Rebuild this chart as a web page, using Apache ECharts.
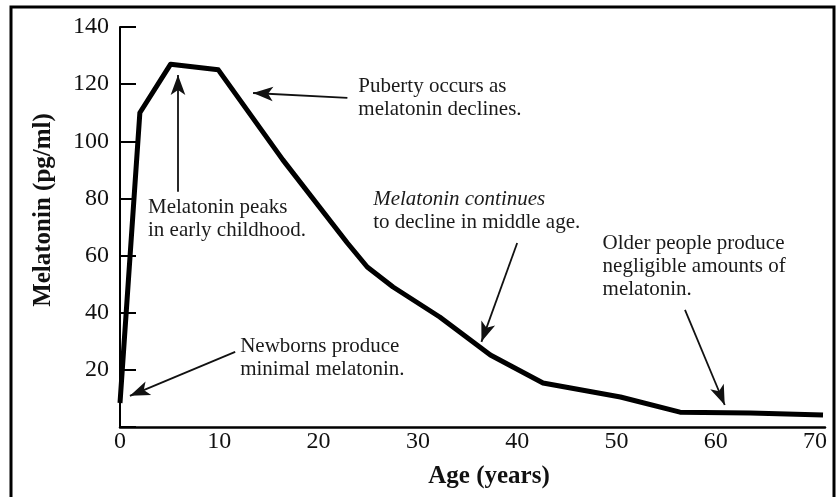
<!DOCTYPE html>
<html>
<head>
<meta charset="utf-8">
<script src="https://cdn.jsdelivr.net/npm/echarts@6/dist/echarts.min.js"></script>
<style>html,body{margin:0;padding:0;background:#fff}#c{width:837px;height:497px}</style>
</head>
<body>
<div id="c"></div>
<script>
// Data
const ages   = [0, 2.0, 5.1, 9.9, 16.4, 22.9, 24.9, 27.5, 32.2, 37.3, 42.6, 50.4, 56.4, 63.5, 70.8];
const values = [8.4, 110, 127, 125, 93.5, 64.4, 56, 49, 38.5, 25.2, 15.4, 10.5, 5.2, 4.9, 4.2];
const yTicks = [0, 20, 40, 60, 80, 100, 120, 140];
const xTicks = [0, 10, 20, 30, 40, 50, 60, 70];

// Annotation texts: top-left anchor [age, value]
const noteTexts = [
  '{n|Puberty occurs as}\n{n|melatonin declines.}',
  '{n|Melatonin peaks}\n{n|in early childhood.}',
  '{it|Melatonin continues}\n{n|to decline in middle age.}',
  '{n|Newborns produce}\n{n|minimal melatonin.}',
  '{n|Older people produce}\n{n|negligible amounts of}\n{n|melatonin.}'
];
const noteAnchors = [[24.0, 123.2], [2.82, 80.8], [25.5, 83.6], [12.1, 32.3], [48.6, 68.2]];

// Arrows: [from, to] in [age, value]
const arrowFrom = [[22.9, 115.2], [5.84, 82.3], [40.0, 64.4], [11.6, 26.3], [56.9, 41.0]];
const arrowTo   = [[13.4, 116.9], [5.84, 123.2], [36.4, 29.8], [1.0, 10.9], [60.9, 7.7]];

const FF = 'Liberation Serif';
const lineData = ages.map((a, i) => [a, values[i]]);

const chart = echarts.init(document.getElementById('c'));
chart.setOption({
  backgroundColor: '#fff',
  animation: false,
  grid: { left: 120, right: 12, top: 27, bottom: 70 },
  xAxis: {
    type: 'value', min: 0, max: 71, interval: 10,
    axisLine: { show: true, onZero: false, lineStyle: { color: '#000', width: 2.5 } },
    axisTick: { show: false },
    splitLine: { show: false },
    axisLabel: {
      color: '#111', fontFamily: FF, fontSize: 24, margin: 3,
      formatter: v => (xTicks.indexOf(v) >= 0 ? String(v) : '')
    }
  },
  yAxis: {
    type: 'value', min: 0, max: 140, interval: 20,
    axisLine: { show: true, lineStyle: { color: '#000', width: 2 } },
    axisTick: { show: true, inside: true, length: 16, lineStyle: { color: '#000', width: 2 } },
    splitLine: { show: false },
    axisLabel: {
      color: '#111', fontFamily: FF, fontSize: 24, margin: 11,
      formatter: v => (v > 0 && yTicks.indexOf(v) >= 0 ? String(v) : '')
    }
  },
  series: [{
    type: 'line',
    data: lineData,
    symbol: 'none',
    lineStyle: { color: '#000', width: 5, join: 'round' },
    markLine: {
      silent: true,
      symbol: ['none', 'arrow'],
      symbolSize: [11, 20],
      label: { show: false },
      lineStyle: { color: '#111', width: 1.8, type: 'solid' },
      data: arrowFrom.map((f, i) => [{ coord: f }, { coord: arrowTo[i] }])
    },
    markPoint: {
      silent: true,
      symbol: 'rect',
      symbolSize: 0,
      itemStyle: { color: 'transparent' },
      label: {
        show: true,
        position: [0, 0],
        align: 'left',
        verticalAlign: 'top',
        formatter: p => noteTexts[p.dataIndex],
        rich: {
          n: { fontFamily: FF, fontSize: 21, lineHeight: 23, color: '#1a1a1a' },
          it: { fontFamily: FF, fontSize: 21, lineHeight: 23, color: '#1a1a1a', fontStyle: 'italic' }
        }
      },
      data: noteAnchors.map(c => ({ coord: c }))
    }
  }],
  graphic: [
    { type: 'rect', shape: { x: 11, y: 7, width: 823, height: 560 }, style: { fill: 'none', stroke: '#000', lineWidth: 3 }, silent: true },
    { type: 'text', x: 44, y: 210, rotation: Math.PI / 2, style: { text: 'Melatonin (pg/ml)', fontFamily: FF, fontSize: 25, fontWeight: 'bold', fill: '#111', align: 'center', verticalAlign: 'middle' } },
    { type: 'text', x: 489, y: 477, style: { text: 'Age (years)', fontFamily: FF, fontSize: 25, fontWeight: 'bold', fill: '#111', align: 'center', verticalAlign: 'middle' } }
  ]
});
</script>
</body>
</html>
